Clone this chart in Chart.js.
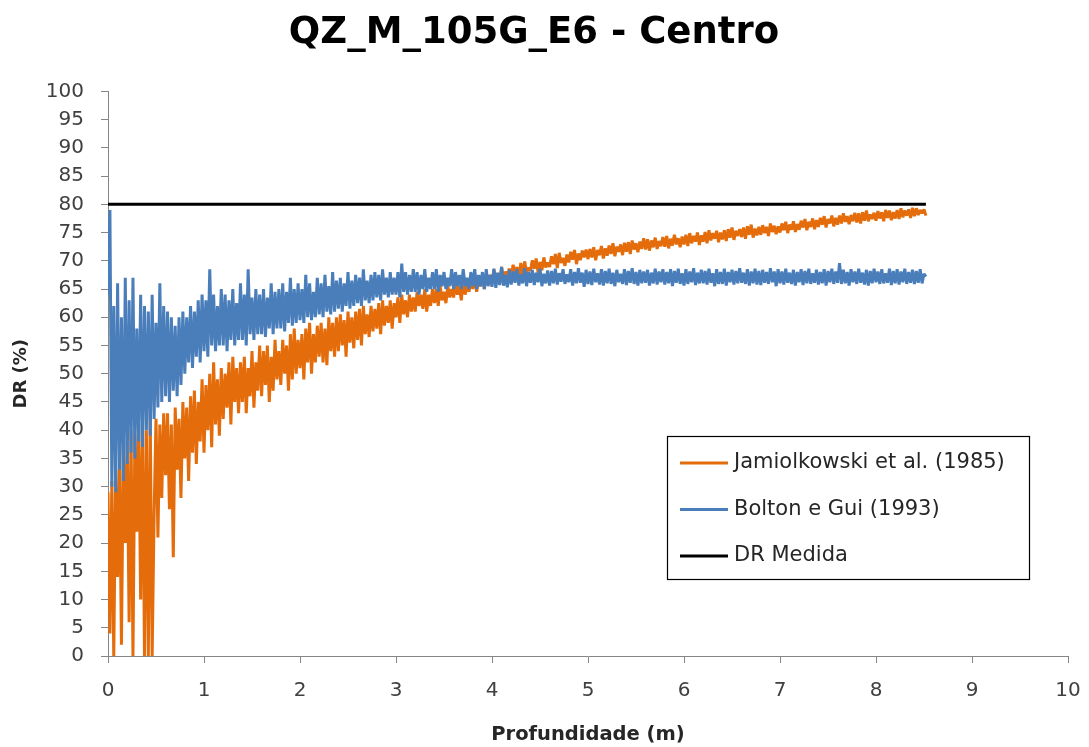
<!DOCTYPE html>
<html>
<head>
<meta charset="utf-8">
<title>QZ_M_105G_E6 - Centro</title>
<script src="https://cdn.jsdelivr.net/npm/chart.js@4.4.1/dist/chart.umd.min.js"></script>
<style>
  html, body { margin: 0; padding: 0; background: #fff; }
  #wrap { width: 1089px; height: 747px; }
</style>
</head>
<body>
<div id="wrap"><canvas id="drChart" width="1089" height="747"></canvas></div>
<script>
// Profundidade (m) of each reading
const depth = [
  0, 0.02, 0.04, 0.06, 0.08, 0.1, 0.12, 0.14, 0.16, 0.18,
  0.2, 0.22, 0.24, 0.26, 0.28, 0.3, 0.32, 0.34, 0.36, 0.38,
  0.4, 0.42, 0.44, 0.46, 0.48, 0.5, 0.52, 0.54, 0.56, 0.58,
  0.6, 0.62, 0.64, 0.66, 0.68, 0.7, 0.72, 0.74, 0.76, 0.78,
  0.8, 0.82, 0.84, 0.86, 0.88, 0.9, 0.92, 0.94, 0.96, 0.98,
  1, 1.02, 1.04, 1.06, 1.08, 1.1, 1.12, 1.14, 1.16, 1.18,
  1.2, 1.22, 1.24, 1.26, 1.28, 1.3, 1.32, 1.34, 1.36, 1.38,
  1.4, 1.42, 1.44, 1.46, 1.48, 1.5, 1.52, 1.54, 1.56, 1.58,
  1.6, 1.62, 1.64, 1.66, 1.68, 1.7, 1.72, 1.74, 1.76, 1.78,
  1.8, 1.82, 1.84, 1.86, 1.88, 1.9, 1.92, 1.94, 1.96, 1.98,
  2, 2.02, 2.04, 2.06, 2.08, 2.1, 2.12, 2.14, 2.16, 2.18,
  2.2, 2.22, 2.24, 2.26, 2.28, 2.3, 2.32, 2.34, 2.36, 2.38,
  2.4, 2.42, 2.44, 2.46, 2.48, 2.5, 2.52, 2.54, 2.56, 2.58,
  2.6, 2.62, 2.64, 2.66, 2.68, 2.7, 2.72, 2.74, 2.76, 2.78,
  2.8, 2.82, 2.84, 2.86, 2.88, 2.9, 2.92, 2.94, 2.96, 2.98,
  3, 3.02, 3.04, 3.06, 3.08, 3.1, 3.12, 3.14, 3.16, 3.18,
  3.2, 3.22, 3.24, 3.26, 3.28, 3.3, 3.32, 3.34, 3.36, 3.38,
  3.4, 3.42, 3.44, 3.46, 3.48, 3.5, 3.52, 3.54, 3.56, 3.58,
  3.6, 3.62, 3.64, 3.66, 3.68, 3.7, 3.72, 3.74, 3.76, 3.78,
  3.8, 3.82, 3.84, 3.86, 3.88, 3.9, 3.92, 3.94, 3.96, 3.98,
  4, 4.02, 4.04, 4.06, 4.08, 4.1, 4.12, 4.14, 4.16, 4.18,
  4.2, 4.22, 4.24, 4.26, 4.28, 4.3, 4.32, 4.34, 4.36, 4.38,
  4.4, 4.42, 4.44, 4.46, 4.48, 4.5, 4.52, 4.54, 4.56, 4.58,
  4.6, 4.62, 4.64, 4.66, 4.68, 4.7, 4.72, 4.74, 4.76, 4.78,
  4.8, 4.82, 4.84, 4.86, 4.88, 4.9, 4.92, 4.94, 4.96, 4.98,
  5, 5.02, 5.04, 5.06, 5.08, 5.1, 5.12, 5.14, 5.16, 5.18,
  5.2, 5.22, 5.24, 5.26, 5.28, 5.3, 5.32, 5.34, 5.36, 5.38,
  5.4, 5.42, 5.44, 5.46, 5.48, 5.5, 5.52, 5.54, 5.56, 5.58,
  5.6, 5.62, 5.64, 5.66, 5.68, 5.7, 5.72, 5.74, 5.76, 5.78,
  5.8, 5.82, 5.84, 5.86, 5.88, 5.9, 5.92, 5.94, 5.96, 5.98,
  6, 6.02, 6.04, 6.06, 6.08, 6.1, 6.12, 6.14, 6.16, 6.18,
  6.2, 6.22, 6.24, 6.26, 6.28, 6.3, 6.32, 6.34, 6.36, 6.38,
  6.4, 6.42, 6.44, 6.46, 6.48, 6.5, 6.52, 6.54, 6.56, 6.58,
  6.6, 6.62, 6.64, 6.66, 6.68, 6.7, 6.72, 6.74, 6.76, 6.78,
  6.8, 6.82, 6.84, 6.86, 6.88, 6.9, 6.92, 6.94, 6.96, 6.98,
  7, 7.02, 7.04, 7.06, 7.08, 7.1, 7.12, 7.14, 7.16, 7.18,
  7.2, 7.22, 7.24, 7.26, 7.28, 7.3, 7.32, 7.34, 7.36, 7.38,
  7.4, 7.42, 7.44, 7.46, 7.48, 7.5, 7.52, 7.54, 7.56, 7.58,
  7.6, 7.62, 7.64, 7.66, 7.68, 7.7, 7.72, 7.74, 7.76, 7.78,
  7.8, 7.82, 7.84, 7.86, 7.88, 7.9, 7.92, 7.94, 7.96, 7.98,
  8, 8.02, 8.04, 8.06, 8.08, 8.1, 8.12, 8.14, 8.16, 8.18,
  8.2, 8.22, 8.24, 8.26, 8.28, 8.3, 8.32, 8.34, 8.36, 8.38,
  8.4, 8.42, 8.44, 8.46, 8.48, 8.5, 8.52
];

// DR (%) - Jamiolkowski et al. (1985)
const jamiolkowski = [
  29, 4, 31, 0, 33, 14, 35, 2, 37, 20,
  38, 6, 40, 0, 39, 22, 41, 10, 42, 0,
  40, 0, 43, 0, 25, 42, 21, 41, 28, 43,
  32, 43, 26, 41, 17.5, 44, 33, 42, 28, 45,
  35, 44, 31, 46, 36, 47, 34, 45, 38, 49,
  36, 48, 40, 50, 37, 52, 41, 49, 39, 51,
  42, 50, 44, 52, 41, 53, 45, 51, 43, 52,
  45, 53, 43, 51, 46, 54, 44, 52, 47, 55,
  46, 54, 48, 55, 45, 53, 47, 56, 49, 54,
  48, 56, 50, 55, 47, 57, 49, 58, 50, 56,
  51, 57, 49, 58, 52, 59, 50, 57, 52, 58.5,
  53, 59, 52, 58, 51.5, 60, 54, 59, 53, 60,
  54, 60.5, 55, 59.5, 53, 61, 55.5, 60, 54.5, 61,
  56, 61.5, 55, 62, 57, 60.5, 56.5, 62, 57.5, 61.5,
  58, 62.5, 57, 63, 58.5, 62, 59, 63, 58, 62.5,
  60, 63.5, 59, 64, 60.5, 63, 60, 64, 61, 63.5,
  61, 64.5, 62, 64, 61.5, 65, 61, 64, 62, 65,
  62.5, 65, 62, 65.5, 63, 64.5, 62.5, 65.5, 63.5, 65,
  63.5, 66, 64, 65.5, 63, 66.5, 64, 66, 64.5, 66.5,
  65, 67, 64.5, 66.5, 65.5, 67.5, 65, 67, 66, 67.5,
  66.2, 68.4, 66.9, 67.8, 65.9, 68.9, 66.6, 68.1, 67.2, 68.6,
  67.1, 69.3, 67.6, 68.9, 66.8, 69.6, 67.4, 69.9, 67.9, 68.8,
  68.2, 70.1, 68.6, 70.4, 67.9, 69.8, 68.3, 70.6, 68.8, 69.7,
  68.9, 70.8, 69.4, 71.2, 68.7, 71.4, 69.6, 70.5, 69.1, 71.1,
  69.7, 71.6, 70.2, 71.9, 69.4, 71.3, 70.1, 71.8, 70.6, 72,
  70.3, 72.1, 70.6, 72.4, 70.1, 71.9, 71, 72.6, 70.4, 72.2,
  70.9, 72.7, 71.2, 73.1, 70.8, 72.5, 71.6, 72.9, 71, 73.2,
  71.6, 73.3, 71.2, 73.6, 72, 73.1, 71.5, 73.4, 72.1, 74,
  72, 73.8, 71.8, 73.6, 72.4, 74.1, 72.1, 73.5, 72.6, 74.2,
  72.5, 74.4, 72.2, 73.9, 72.7, 74.6, 72.9, 74, 72.4, 74.3,
  72.9, 74.6, 72.6, 74.9, 73.1, 74.4, 73.4, 75, 72.8, 74.5,
  73.4, 75.1, 73.1, 75.4, 73.6, 74.9, 73.9, 75.3, 73.3, 75,
  73.8, 75.4, 73.5, 75.6, 74.1, 75.9, 73.7, 75.3, 74.4, 75.6,
  74.2, 75.9, 73.9, 76.1, 74.6, 76.4, 74.1, 75.7, 74.5, 76,
  74.6, 76.3, 74.9, 76, 74.4, 76.6, 75.1, 76.2, 74.7, 76.1,
  75, 76.6, 75.4, 76.9, 74.9, 76.4, 75.5, 77, 75.1, 76.5,
  75.5, 77.1, 75.9, 77.4, 75.4, 76.9, 76, 77.5, 75.6, 77.2,
  76, 77.6, 76.4, 77.9, 75.9, 77.4, 76.6, 78, 76.1, 77.6,
  76.4, 78, 76.6, 78.4, 76.9, 77.9, 76.5, 78.1, 77, 78.5,
  76.8, 78.4, 76.6, 78.6, 77.1, 78.9, 77, 78.2, 77.4, 78.5,
  77.1, 78.8, 77.5, 78.6, 77, 79, 77.6, 78.9, 77.2, 78.6,
  77.5, 79, 77.4, 79.3, 77.7, 78.9, 78, 79.1, 77.6, 79.4,
  77.9, 79.3, 78.1, 79, 78.4, 79.1, 78
];

// DR (%) - Bolton e Gui (1993)
const bolton = [
  64, 79, 30, 62, 29, 66, 33, 60, 31, 67,
  34, 63, 36, 67, 35, 58, 38, 64, 37, 62,
  40, 61, 39, 64, 42, 59, 44, 66, 45, 62,
  46, 61, 45, 60, 47, 58.5, 46, 60, 48, 61,
  50, 60, 52, 62, 51, 61, 53, 63, 52, 64,
  54, 63, 53, 68.5, 55, 64, 54, 62, 55, 65,
  55, 64, 54, 63, 56, 65, 55, 62.5, 56, 66,
  56, 64, 55, 68.5, 57, 63.5, 56, 65, 57, 64,
  57, 65, 56.5, 63.5, 58, 66, 57, 64.5, 58, 65,
  58, 66, 57.5, 64.5, 59, 67, 58.5, 65, 59, 66,
  59.5, 65, 59, 67.5, 60, 66, 59.5, 64.5, 60, 67,
  60.5, 66, 60, 67.5, 61, 65.5, 60.5, 68, 61, 66.5,
  61.5, 67, 61, 66, 62, 68, 61.5, 66.5, 62, 67.5,
  62.5, 67, 62, 68.5, 63, 66.5, 62.5, 67.5, 63, 68,
  63.5, 67.5, 63, 68.5, 64, 67, 63.5, 68, 64, 67,
  64, 68, 63.5, 69.5, 64.5, 68, 64, 67.5, 64.5, 68.5,
  64.5, 68, 64, 67.5, 65, 68.5, 64.5, 67, 65, 68,
  65, 68.5, 64.5, 67.5, 65.5, 68, 65, 67, 65.5, 68.5,
  65, 68, 65.5, 67.5, 65, 68.5, 65.5, 67, 65, 68,
  65.5, 68.5, 65, 67.5, 65.5, 68, 65, 68.5, 65.5, 67.5,
  65.4, 68.6, 65.2, 67.9, 65.7, 68.9, 65.6, 67.5, 65.3, 68.4,
  65.8, 68.1, 66.1, 68.5, 65.6, 67.6, 66, 68.7, 65.5, 68,
  66.1, 68.4, 65.7, 67.9, 66.2, 68.6, 65.5, 67.7, 66, 68.3,
  65.6, 68.2, 66, 68.6, 65.8, 67.8, 66.3, 68.5, 65.9, 67.6,
  66.2, 68.5, 65.6, 68, 66, 68.7, 66.1, 67.9, 65.4, 68.4,
  65.9, 68.1, 65.7, 68.6, 66.2, 67.8, 65.8, 68.5, 65.6, 68.2,
  66, 68.6, 65.9, 67.9, 65.5, 68.4, 66.2, 67.7, 65.9, 68.5,
  65.7, 68.2, 66.1, 68.7, 65.9, 68, 65.6, 68.4, 66, 68.1,
  66.1, 68.4, 65.6, 67.9, 66, 68.6, 65.8, 68.1, 66.2, 68.5,
  65.8, 68, 66, 68.5, 65.5, 68.2, 66.1, 68.6, 65.9, 67.8,
  65.6, 68.5, 65.9, 68.1, 66.2, 68.7, 65.7, 67.9, 66, 68.4,
  66, 68.2, 65.8, 68.6, 66.1, 67.8, 65.5, 68.5, 65.9, 68,
  65.9, 68.6, 65.6, 68, 66.2, 68.4, 65.8, 68.2, 66, 68.7,
  66.1, 67.9, 65.9, 68.5, 65.6, 68.1, 66, 68.6, 65.8, 68.2,
  65.7, 68.4, 66.1, 68, 65.9, 68.7, 66.2, 68.1, 65.5, 68.5,
  66, 68.1, 65.8, 68.6, 66.1, 67.9, 65.9, 68.4, 65.6, 68,
  66.2, 68.5, 65.7, 68.2, 66, 68.6, 65.9, 67.8, 66.1, 68.4,
  65.8, 68, 66, 68.5, 65.6, 68.2, 66.2, 68.6, 65.9, 68.1,
  66.1, 69.6, 65.9, 68.4, 66, 68, 65.6, 68.5, 66.2, 68.1,
  65.9, 68.6, 66.1, 67.9, 65.8, 68.4, 65.6, 68.2, 66, 68.6,
  66.2, 68.1, 65.9, 68.5, 66, 67.8, 66.1, 68.6, 65.7, 68.2,
  66, 68.5, 65.8, 68.1, 66.2, 68.6, 65.9, 68, 66.1, 68.4,
  65.9, 68.2, 66.1, 68.5, 66, 67.7, 67.2
];

// DR Medida (measured value, constant over the profile)
const medidaDepth = [0, 8.52];
const medidaDR = [80, 80];

// Axis ticks
const xTicks = [0, 1, 2, 3, 4, 5, 6, 7, 8, 9, 10];
const yTicks = [0, 5, 10, 15, 20, 25, 30, 35, 40, 45, 50, 55, 60, 65, 70, 75, 80, 85, 90, 95, 100];

const toPoints = (xs, ys) => xs.map((x, i) => ({ x: x, y: ys[i] }));

const AXIS_GREY = '#868686';
const TEXT_DARK = '#262626';
const FONT = '"DejaVu Sans", "Open Sans", sans-serif';

// Boxed legend sitting inside the plot, like the spreadsheet one
const boxLegend = {
    id: 'boxLegend',
    afterDraw(chart) {
        const ctx = chart.ctx;
        const x = 667, y = 436, w = 362, h = 143;
        ctx.save();
        ctx.fillStyle = '#fff';
        ctx.fillRect(x, y, w, h);
        ctx.strokeStyle = '#000';
        ctx.lineWidth = 1.2;
        ctx.strokeRect(x + 0.5, y + 0.5, w, h);
        ctx.font = '21px ' + FONT;
        ctx.textBaseline = 'middle';
        ctx.textAlign = 'left';
        chart.data.datasets.forEach((ds, i) => {
            const cy = y + 27 + i * 46.5;
            ctx.strokeStyle = ds.borderColor;
            ctx.lineWidth = 3;
            ctx.beginPath();
            ctx.moveTo(x + 13, cy);
            ctx.lineTo(x + 61, cy);
            ctx.stroke();
            ctx.fillStyle = TEXT_DARK;
            ctx.fillText(ds.label, x + 67, cy);
        });
        ctx.restore();
    }
};

new Chart(document.getElementById('drChart'), {
    type: 'line',
    data: {
        datasets: [
            {
                label: 'Jamiolkowski et al. (1985)',
                data: toPoints(depth, jamiolkowski),
                borderColor: '#E46C0A',
                borderWidth: 3,
                order: 3
            },
            {
                label: 'Bolton e Gui (1993)',
                data: toPoints(depth, bolton),
                borderColor: '#4A7EBB',
                borderWidth: 3,
                order: 2
            },
            {
                label: 'DR Medida',
                data: toPoints(medidaDepth, medidaDR),
                borderColor: '#000000',
                borderWidth: 3,
                order: 1
            }
        ]
    },
    options: {
        responsive: false,
        animation: false,
        layout: { padding: { left: 0, right: 21, top: 0, bottom: 0 } },
        elements: {
            point: { radius: 0, hoverRadius: 0 },
            line: { tension: 0, fill: false, borderJoinStyle: 'bevel' }
        },
        plugins: {
            legend: { display: false },
            tooltip: { enabled: false },
            title: {
                display: true,
                text: 'QZ_M_105G_E6 - Centro',
                color: '#000',
                font: { family: FONT, size: 37, weight: 'bold', lineHeight: 1.2 },
                padding: { top: 11, bottom: 36 }
            }
        },
        scales: {
            x: {
                type: 'linear',
                min: 0,
                max: 10,
                afterBuildTicks: s => { s.ticks = xTicks.map(v => ({ value: v })); },
                // fixed axis band; the "10" label may hang into the right margin
                afterFit: s => { s.height = 91; s.paddingLeft = 0; s.paddingRight = 0; },
                border: { color: AXIS_GREY, width: 1 },
                grid: { drawOnChartArea: false, drawTicks: true, tickLength: 7, color: AXIS_GREY },
                ticks: {
                    color: '#404040',
                    padding: 16,
                    maxRotation: 0,
                    font: { family: FONT, size: 20 }
                },
                title: {
                    display: true,
                    text: 'Profundidade (m)',
                    color: TEXT_DARK,
                    font: { family: FONT, size: 19.5, weight: 'bold' },
                    padding: { top: 4, bottom: 0 }
                }
            },
            y: {
                min: 0,
                max: 100,
                afterBuildTicks: s => { s.ticks = yTicks.map(v => ({ value: v })); },
                afterFit: s => { s.width = 108; },
                border: { color: AXIS_GREY, width: 1 },
                grid: { drawOnChartArea: false, drawTicks: true, tickLength: 7, color: AXIS_GREY },
                ticks: {
                    color: '#404040',
                    padding: 17,
                    font: { family: FONT, size: 20 }
                },
                title: {
                    display: true,
                    text: 'DR (%)',
                    color: TEXT_DARK,
                    font: { family: FONT, size: 18, weight: 'bold' },
                    padding: { top: 11, bottom: 0 }
                }
            }
        }
    },
    plugins: [boxLegend]
});
</script>
</body>
</html>
